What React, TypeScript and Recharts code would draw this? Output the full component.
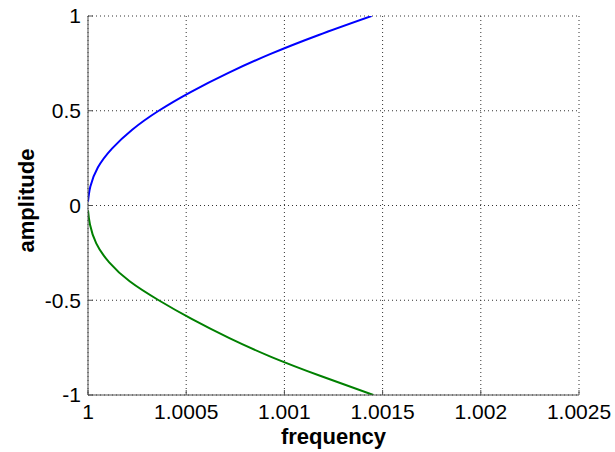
import React from 'react';
import { LineChart, Line, XAxis, YAxis, CartesianGrid, Label } from 'recharts';

// Upper branch (blue): frequency and amplitude
const blueFreq = [1.0, 1.000012, 1.00005, 1.000122, 1.000225, 1.00036, 1.000525, 1.000715, 1.00093, 1.001175, 1.001444];
const blueAmp = [0.02, 0.1, 0.2, 0.3, 0.4, 0.5, 0.6, 0.7, 0.8, 0.9, 1.0];

// Lower branch (green)
const greenFreq = [1.0, 1.00001, 1.000042, 1.000108, 1.000212, 1.00036, 1.00053, 1.00072, 1.000935, 1.001185, 1.001453];
const greenAmp = [-0.025, -0.1, -0.2, -0.3, -0.4, -0.5, -0.6, -0.7, -0.8, -0.9, -1.0];

const xTicks = [1, 1.0005, 1.001, 1.0015, 1.002, 1.0025];
const yTicks = [-1, -0.5, 0, 0.5, 1];

const blueData = blueFreq.map((f, i) => ({ f, a: blueAmp[i] }));
const greenData = greenFreq.map((f, i) => ({ f, a: greenAmp[i] }));

const FONT = '"Liberation Sans", Arial, Helvetica, sans-serif';
const AXIS = '#505050';

const fmtX = (v: number) => String(parseFloat(v.toFixed(4)));
const fmtY = (v: number) => String(parseFloat(v.toFixed(2)));

const XTitle = (props: any) => {
  const vb = props.viewBox || {};
  return (
    <text x={vb.x + vb.width / 2} y={vb.y + 48.5} textAnchor="middle" fontFamily={FONT} fontSize={22} fontWeight="bold" fill="#000">
      frequency
    </text>
  );
};

const YTitle = (props: any) => {
  const vb = props.viewBox || {};
  const cx = 34;
  const cy = vb.y + vb.height / 2 - 5;
  return (
    <text x={cx} y={cy} transform={`rotate(-90, ${cx}, ${cy})`} textAnchor="middle" fontFamily={FONT} fontSize={22} fontWeight="bold" fill="#000">
      amplitude
    </text>
  );
};

export default function App() {
  return (
    <div style={{ position: 'absolute', left: 0, top: 0, width: 615, height: 452, background: '#fff' }}>
      <LineChart width={615} height={452} margin={{ top: 16, right: 36, left: 0, bottom: 0 }}>
        <CartesianGrid stroke="#333" strokeDasharray="1 3" strokeWidth={1} />
        <XAxis
          dataKey="f"
          type="number"
          domain={[1, 1.0025]}
          ticks={xTicks}
          tickFormatter={fmtX}
          height={57}
          tickSize={-5}
          tickMargin={14.4}
          stroke={AXIS}
          tick={{ fill: '#000', fontFamily: FONT, fontSize: 21 }}
          interval={0}
          allowDataOverflow
        >
          <Label content={XTitle} />
        </XAxis>
        <XAxis
          xAxisId="top"
          orientation="top"
          dataKey="f"
          type="number"
          domain={[1, 1.0025]}
          ticks={xTicks}
          height={0}
          tickSize={-5}
          tick={false}
          stroke={AXIS}
          allowDataOverflow
        />
        <YAxis
          type="number"
          domain={[-1, 1]}
          ticks={yTicks}
          tickFormatter={fmtY}
          width={88}
          tickSize={-5}
          tickMargin={12}
          stroke={AXIS}
          tick={{ fill: '#000', fontFamily: FONT, fontSize: 21 }}
          interval={0}
          allowDataOverflow
        >
          <Label content={YTitle} />
        </YAxis>
        <YAxis
          yAxisId="right"
          orientation="right"
          type="number"
          domain={[-1, 1]}
          ticks={yTicks}
          width={0}
          tickSize={-5}
          tick={false}
          stroke={AXIS}
          allowDataOverflow
        />
        <Line data={blueData} dataKey="a" type="natural" stroke="#0000ff" strokeWidth={2} dot={false} isAnimationActive={false} />
        <Line data={greenData} dataKey="a" type="natural" stroke="#008000" strokeWidth={2} dot={false} isAnimationActive={false} />
      </LineChart>
    </div>
  );
}
